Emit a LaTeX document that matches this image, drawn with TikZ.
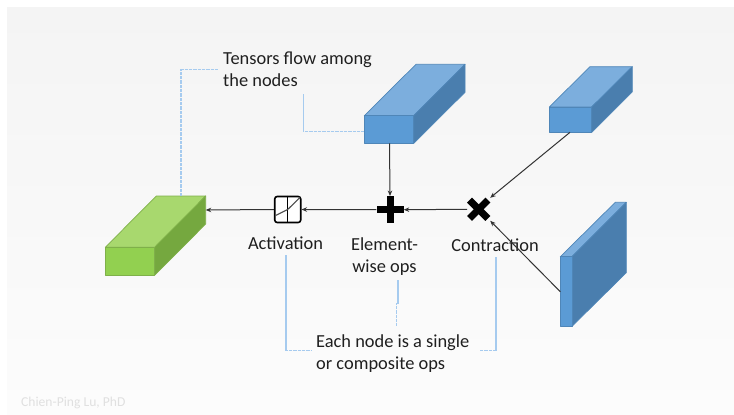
\documentclass[tikz,border=0pt]{standalone}
\usepackage{fontspec}
\setmainfont{Carlito}
\usetikzlibrary{arrows.meta}
\definecolor{gf}{HTML}{92D050}\definecolor{gt}{HTML}{A8D86E}\definecolor{gs}{HTML}{75A83F}\definecolor{ge}{HTML}{7FB04A}
\definecolor{bf}{HTML}{5B9BD5}\definecolor{bt}{HTML}{7CAEDD}\definecolor{bs}{HTML}{4A7EAE}\definecolor{be}{HTML}{4F86B8}
\definecolor{callout}{HTML}{A6CBEF}\definecolor{conn}{HTML}{333333}
\definecolor{bgtop}{HTML}{F4F4F4}\definecolor{bgbot}{HTML}{FCFCFC}
\tikzset{
 x=1pt,y=-1pt,
 lbl/.style={font=\fontsize{18.4}{22}\selectfont,text=black!88,inner sep=0pt,align=left},
 greenface/.style={fill=gf,draw=ge,line width=.7pt,line join=round},
 greentop/.style={fill=gt,draw=ge,line width=.7pt,line join=round},
 greenside/.style={fill=gs,draw=ge,line width=.7pt,line join=round},
 blueface/.style={fill=bf,draw=be,line width=.7pt,line join=round},
 bluetop/.style={fill=bt,draw=be,line width=.7pt,line join=round},
 blueside/.style={fill=bs,draw=be,line width=.7pt,line join=round},
 flow/.style={draw=conn,line width=1pt,-{Stealth[length=5.5pt,width=4.5pt]}},
 note/.style={draw=callout,line width=1.1pt},
 notedot/.style={draw=callout,line width=1.3pt,dash pattern=on .8pt off .5pt},
 opmark/.style={fill=black,draw=none},
 anchorpt/.style={inner sep=0pt,minimum size=0pt,outer sep=0pt}
}
\begin{document}
\begin{tikzpicture}
\useasboundingbox (0,0) rectangle (734,415);
\fill[white] (0,0) rectangle (734,415);
\shade[top color=bgtop,bottom color=bgbot] (7,7) rectangle (734,415);
% green block
\draw[greentop] (105.3,247.3) -- (156.3,196) -- (205.7,196) -- (154.7,247.3) -- cycle;
\draw[greenside] (154.7,247.3) -- (205.7,196) -- (205.7,224) -- (154.7,275.3) -- cycle;
\draw[greenface] (105.3,247.3) rectangle (154.7,275.3);
\coordinate (green) at (205.7,210);
\coordinate (greentopc) at (181,196);
% blue block 1
\draw[bluetop] (364.3,115.7) -- (416,64.3) -- (465,64.3) -- (413.7,115.7) -- cycle;
\draw[blueside] (413.7,115.7) -- (465,64.3) -- (465,92.3) -- (413.7,143.3) -- cycle;
\draw[blueface] (364.3,115.7) rectangle (413.7,143.3);
\coordinate (blueA) at (389.5,143.3);
\coordinate (blueAleft) at (364.3,131.3);
% blue block 2
\draw[bluetop] (549.3,107) -- (590,66.7) -- (632.3,66.7) -- (591.7,107) -- cycle;
\draw[blueside] (591.7,107) -- (632.3,66.7) -- (632.3,91.7) -- (591.7,132.3) -- cycle;
\draw[blueface] (549.3,107) rectangle (591.7,132.3);
\coordinate (blueB) at (570,132.3);
% blue block 3
\draw[bluetop] (560.3,256.7) -- (615.3,202.3) -- (626.3,202.3) -- (572,256.7) -- cycle;
\draw[blueside] (572,256.7) -- (626.3,202.3) -- (626.3,272.7) -- (572,326.3) -- cycle;
\draw[blueface] (560.3,256.7) rectangle (572,326.3);
\coordinate (blueC) at (560.3,291.7);
% operator marks
\node[draw=black,line width=1.6pt,rounded corners=2.5pt,minimum width=26pt,minimum height=26pt,inner sep=0pt,fill=white] (act) at (287.7,209.5) {};
\draw[black,line width=.9pt] (act.north) -- (act.south);
\coordinate (sigL) at (275.5,215.5);
\coordinate (sigR) at (300,197.5);
\draw[black!70,line width=1.1pt] (sigL) -- (act.center) -- (sigR);
\node[anchorpt,minimum width=27.4pt,minimum height=27.4pt] (plus) at (390,209.7) {};
\fill[opmark] (376.5,206.2) rectangle (404,213.2);
\fill[opmark] (386.5,196) rectangle (393.5,223.4);
\node[anchorpt,minimum width=23pt,minimum height=23pt] (cross) at (478.7,209.3) {};
\fill[opmark,rotate around={45:(478.7,209.3)}] (465.7,205.8) rectangle (491.7,212.8);
\fill[opmark,rotate around={45:(478.7,209.3)}] (475.2,196.3) rectangle (482.2,222.3);
% labels
\node[lbl,anchor=west] (tensors) at (223,69) {Tensors flow among\\the nodes};
\node[lbl,anchor=center] (activation) at (285.5,243) {Activation};
\node[lbl,anchor=center,align=center] (element) at (384.5,257) {Element-\\wise ops};
\node[lbl,anchor=center] (contraction) at (495,245) {Contraction};
\node[lbl,anchor=west] (each) at (316,353.5) {Each node is a single\\or composite ops};
\node[anchor=west,inner sep=0pt,text=black!12,font=\fontsize{13.6}{16}\selectfont] (credit) at (21,403) {Chien-Ping Lu, PhD};
% flows
\draw[flow] (cross.west) -- (plus.east);
\draw[flow] (plus.west) -- (act.east);
\draw[flow] (act.west) -- (green);
\draw[flow] (blueA) -- (plus.north);
\draw[flow] (blueB) -- (cross.north east);
\draw[flow] (blueC) -- (cross.south east);
% callouts
\coordinate (t1) at (218,69.7);
\coordinate (t2) at (303.3,94.3);
\coordinate (a1) at (286,255);
\coordinate (e1) at (311,350.7);
\coordinate (c1) at (496,257);
\coordinate (e2) at (480,350.7);
\coordinate (w1) at (398,280);
\coordinate (w2) at (398,303);
\coordinate (w3) at (396.5,303);
\coordinate (e3) at (396.5,326);
\draw[notedot] (greentopc) |- (t1);
\draw[note] (t2) -- (t2 |- blueAleft);
\draw[notedot] (t2 |- blueAleft) -- (blueAleft);
\draw[note] (a1) -- (a1 |- e1);
\draw[notedot] (a1 |- e1) -- (e1);
\draw[note] (c1) -- (c1 |- e2);
\draw[notedot] (c1 |- e2) -- (e2);
\draw[note] (w1) -- (w2) -- (w3);
\draw[notedot] (w3) -- (e3);
\end{tikzpicture}
\end{document}
